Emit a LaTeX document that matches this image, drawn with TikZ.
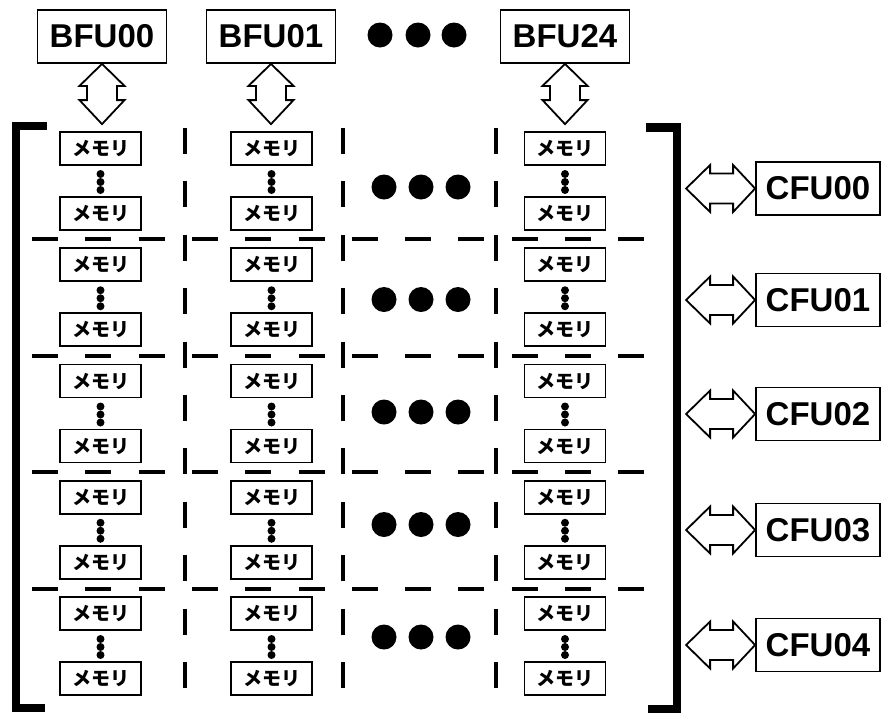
\documentclass[tikz,border=0pt]{standalone}
\usepackage{fontspec}
\setmainfont{Liberation Sans}
\newfontfamily\jp{Noto Sans CJK JP}
\usetikzlibrary{calc}
\tikzset{
  lbl/.style={draw, line width=1.8pt, minimum width=129pt, minimum height=53pt, inner sep=0pt,
    font=\fontsize{33}{33}\selectfont\bfseries},
  cfu/.style={lbl, minimum width=124pt},
  mem/.style={draw, line width=1.8pt, minimum width=81pt, minimum height=33pt, inner sep=0pt,
    font=\jp\bfseries\fontsize{19}{19}\selectfont},
  arr/.style={draw, fill=white, line width=1.8pt, line join=miter},
  hdash/.style={line width=4pt, dash pattern=on 26pt off 27.3pt},
  vdash/.style={line width=4pt, dash pattern=on 26pt off 27.4pt},
  brk/.style={line width=8.5pt, line join=miter},
  bigdot/.style={fill=black},
}
\newcommand\vdar[2]{%
  \path[arr] let \p1=(#1), \p2=(#2) in
    (\x1,\y1) -- (\x1+22.5pt,\y1-22pt) -- (\x1+15pt,\y1-22pt) -- (\x1+15pt,\y2+24pt)
    -- (\x1+22.5pt,\y2+24pt) -- (\x1,\y2) -- (\x1-22.5pt,\y2+24pt) -- (\x1-15pt,\y2+24pt)
    -- (\x1-15pt,\y1-22pt) -- (\x1-22.5pt,\y1-22pt) -- cycle;}
\newcommand\hdar[2]{%
  \path[arr] let \p1=(#1), \p2=(#2) in
    (\x1,\y1) -- (\x1+24pt,\y1+23.5pt) -- (\x1+24pt,\y1+15pt) -- (\x2-22pt,\y1+15pt)
    -- (\x2-22pt,\y1+23.5pt) -- (\x2,\y1) -- (\x2-22pt,\y1-23.5pt) -- (\x2-22pt,\y1-15pt)
    -- (\x1+24pt,\y1-15pt) -- (\x1+24pt,\y1-23.5pt) -- cycle;}
\begin{document}
\begin{tikzpicture}[x=1pt,y=-1pt]
\useasboundingbox (0,0) rectangle (881,713);

% BFU boxes
\node[lbl] (b0) at (102,36.5) {BFU00};
\node[lbl] (b1) at (271,36.5) {BFU01};
\node[lbl] (b2) at (565,36.5) {BFU24};
\foreach \x in {380,418,454} \fill[bigdot] (\x,35) circle[radius=12.5pt];

% dashed grid
\foreach \k in {0,...,3} \draw[hdash] (32,{239+116.7*\k}) -- (646,{239+116.7*\k});
\foreach \x in {185,343,496} \draw[vdash] (\x,128) -- (\x,688);

% memory boxes
\foreach \c/\cx in {0/100.5,1/271.5,2/565} {
  \foreach \g in {0,...,4} {
    \node[mem] (m\c\g t) at (\cx,{148.5+116.25*\g}) {メモリ};
    \node[mem] (m\c\g b) at (\cx,{213.5+116.25*\g}) {メモリ};
    \foreach \d in {-8,0,8} \fill (\cx,{182+116.25*\g+\d}) circle[radius=4pt];
  }
}
% row dots
\foreach \g in {0,...,4}
  \foreach \x in {384,421,458} \fill[bigdot] (\x,{187+112.5*\g}) circle[radius=12.5pt];

% vertical arrows
\coordinate (e0) at ($(m00t.north)+(0,-7)$);
\coordinate (e1) at ($(m10t.north)+(0,-7)$);
\coordinate (e2) at ($(m20t.north)+(0,-7)$);
\vdar{b0.south}{e0}
\vdar{b1.south}{e1}
\vdar{b2.south}{e2}

% brackets
\draw[brk] (47,126) -- (16,126) -- (16,708) -- (45,708);
\draw[brk] (646,127.5) -- (677,127.5) -- (677,709) -- (648,709);

% CFU boxes and arrows
\foreach \i/\y in {0/188.5,1/300,2/414,3/530,4/645} {
  \node[cfu] (c\i) at (818,\y) {CFU0\i};
  \coordinate (ca\i) at ($(c\i.west)+(-69,0)$);
  \hdar{ca\i}{c\i.west}
}
\end{tikzpicture}
\end{document}
